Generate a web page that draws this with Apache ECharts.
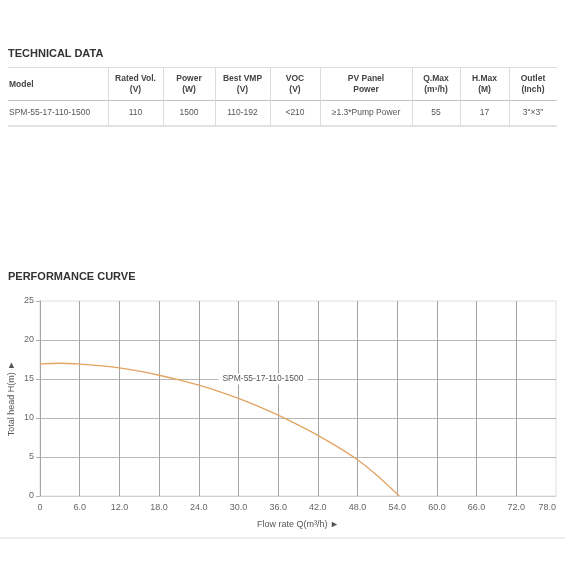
<!DOCTYPE html>
<html>
<head>
<meta charset="utf-8">
<script src="https://cdn.jsdelivr.net/npm/echarts@6/dist/echarts.min.js"></script>
<style>
  html, body { margin:0; padding:0; background:#fff; }
  body { font-family: "Liberation Sans", Arial, Helvetica, sans-serif; }
  #page { position:relative; width:565px; height:565px; overflow:hidden; }
  #chart { position:absolute; left:0; top:0; width:565px; height:565px; }
  .title { position:absolute; left:8px; font-size:11px; font-weight:bold; color:#333; line-height:12px; white-space:nowrap; }
  .cell { position:absolute; font-size:8.5px; color:#555; text-align:center; white-space:nowrap; line-height:10px; }
  .hcell { color:#444; font-weight:bold; }
  .hline { position:absolute; left:8px; width:549px; }
  .vline { position:absolute; width:1px; background:#dcdcdc; }
</style>
</head>
<body>
<div id="page">
  <div id="chart"></div>
  <div class="title" style="top:47px;">TECHNICAL DATA</div>
  <div class="title" style="top:270px;">PERFORMANCE CURVE</div>
  <div id="table"></div>
  <div style="position:absolute;left:0;top:537px;width:565px;height:2px;background:#eeeeee;"></div>
</div>
<script>
// ---- Table data ----
const tableHeadLine1 = ["Model", "Rated Vol.", "Power", "Best VMP", "VOC", "PV Panel", "Q.Max", "H.Max", "Outlet"];
const tableHeadLine2 = ["", "(V)", "(W)", "(V)", "(V)", "Power", "(m³/h)", "(M)", "(Inch)"];
const tableRow = ["SPM-55-17-110-1500", "110", "1500", "110-192", "<210", "≥1.3*Pump Power", "55", "17", "3\"×3\""];

// ---- Curve data ----
const seriesName = "SPM-55-17-110-1500";
const flowQ = [0, 3, 6, 9, 12, 15, 18, 21, 24, 27, 30, 33, 36, 39, 42, 45, 48, 51, 54.3];
const headH = [16.95, 17.02, 16.92, 16.72, 16.42, 16.0, 15.48, 14.88, 14.2, 13.42, 12.52, 11.5, 10.37, 9.12, 7.78, 6.3, 4.65, 2.6, 0];
const xTickStep = 6, xMax = 78;
const yTickStep = 5, yMax = 25;
const curveLabelAt = [33.7, 15];

// ---- Build table ----
(function buildTable() {
  const colEdges = [8, 108, 163, 215, 270, 320, 412, 460, 509, 557];
  const t = document.getElementById('table');
  let html = '';
  html += '<div class="hline" style="top:67px;height:1px;background:#dddddd;"></div>';
  html += '<div class="hline" style="top:100px;height:1px;background:#c4c4c4;"></div>';
  html += '<div class="hline" style="top:125px;height:2px;background:#e2e2e2;"></div>';
  for (let i = 1; i < colEdges.length - 1; i++) {
    html += '<div class="vline" style="left:' + colEdges[i] + 'px;top:68px;height:58px;"></div>';
  }
  for (let i = 0; i < tableHeadLine1.length; i++) {
    const l = colEdges[i], w = colEdges[i + 1] - colEdges[i];
    const align = i === 0 ? 'left' : 'center';
    const pad = i === 0 ? 'padding-left:1px;' : '';
    if (tableHeadLine2[i] === '') {
      html += '<div class="cell hcell" style="left:' + l + 'px;width:' + w + 'px;top:79px;text-align:' + align + ';' + pad + '">' + tableHeadLine1[i] + '</div>';
    } else {
      html += '<div class="cell hcell" style="left:' + l + 'px;width:' + w + 'px;top:73px;text-align:' + align + ';">' + tableHeadLine1[i] + '</div>';
      html += '<div class="cell hcell" style="left:' + l + 'px;width:' + w + 'px;top:84px;text-align:' + align + ';">' + tableHeadLine2[i] + '</div>';
    }
    const txt = tableRow[i].replace(/&/g, '&amp;').replace(/</g, '&lt;');
    html += '<div class="cell" style="left:' + l + 'px;width:' + w + 'px;top:107px;text-align:' + align + ';' + pad + '">' + txt + '</div>';
  }
  t.innerHTML = html;
})();

// ---- Chart ----
const chart = echarts.init(document.getElementById('chart'), null, { renderer: 'canvas' });
const fontFamily = '"Liberation Sans", Arial, Helvetica, sans-serif';
const option = {
  animation: false,
  textStyle: { fontFamily: fontFamily },
  grid: { left: 40, right: 9, top: 301, bottom: 69, containLabel: false, outerBoundsMode: 'none', show: true, borderColor: '#dedede', borderWidth: 1, backgroundColor: 'transparent' },
  xAxis: {
    type: 'value', min: 0, max: xMax, interval: xTickStep,
    name: 'Flow rate Q(m³/h) ►', nameLocation: 'middle', nameGap: 24,
    nameTextStyle: { fontSize: 9, color: '#555', fontFamily: fontFamily },
    axisLine: { show: true, lineStyle: { color: '#cfcfcf', width: 1 } },
    axisTick: { show: false },
    axisLabel: {
      fontSize: 9, color: '#666', margin: 7, fontFamily: fontFamily,
      alignMaxLabel: 'right',
      formatter: function (v) { return v === 0 ? '0' : v.toFixed(1); }
    },
    splitLine: { show: true, showMaxLine: false, lineStyle: { color: '#a4a4a4', width: 1 } }
  },
  yAxis: {
    type: 'value', min: 0, max: yMax, interval: yTickStep,
    name: 'Total head H(m) ►', nameLocation: 'middle', nameGap: 24, nameRotate: 90,
    nameMoveOverlap: false,
    nameTextStyle: { fontSize: 9, color: '#555', fontFamily: fontFamily },
    axisLine: { show: true, lineStyle: { color: '#a4a4a4', width: 1 } },
    axisTick: { show: true, length: 4, lineStyle: { color: '#b0b0b0' } },
    axisLabel: { fontSize: 9, color: '#666', margin: 6, fontFamily: fontFamily },
    splitLine: { show: true, showMaxLine: false, lineStyle: { color: '#b8b8b8', width: 1 } }
  },
  series: [{
    name: seriesName,
    type: 'line',
    smooth: 0.35,
    symbol: 'none',
    data: flowQ.map(function (q, i) { return [q, headH[i]]; }),
    lineStyle: { color: '#E3A462', width: 1.3 },
    markPoint: {
      symbol: 'rect', symbolSize: 1,
      itemStyle: { color: 'rgba(0,0,0,0)' },
      label: {
        show: true, position: 'inside', formatter: seriesName,
        backgroundColor: '#ffffff', padding: [1, 4], fontSize: 8.5, color: '#555', fontFamily: fontFamily
      },
      data: [{ coord: curveLabelAt }]
    }
  }]
};
chart.setOption(option);
</script>
</body>
</html>
